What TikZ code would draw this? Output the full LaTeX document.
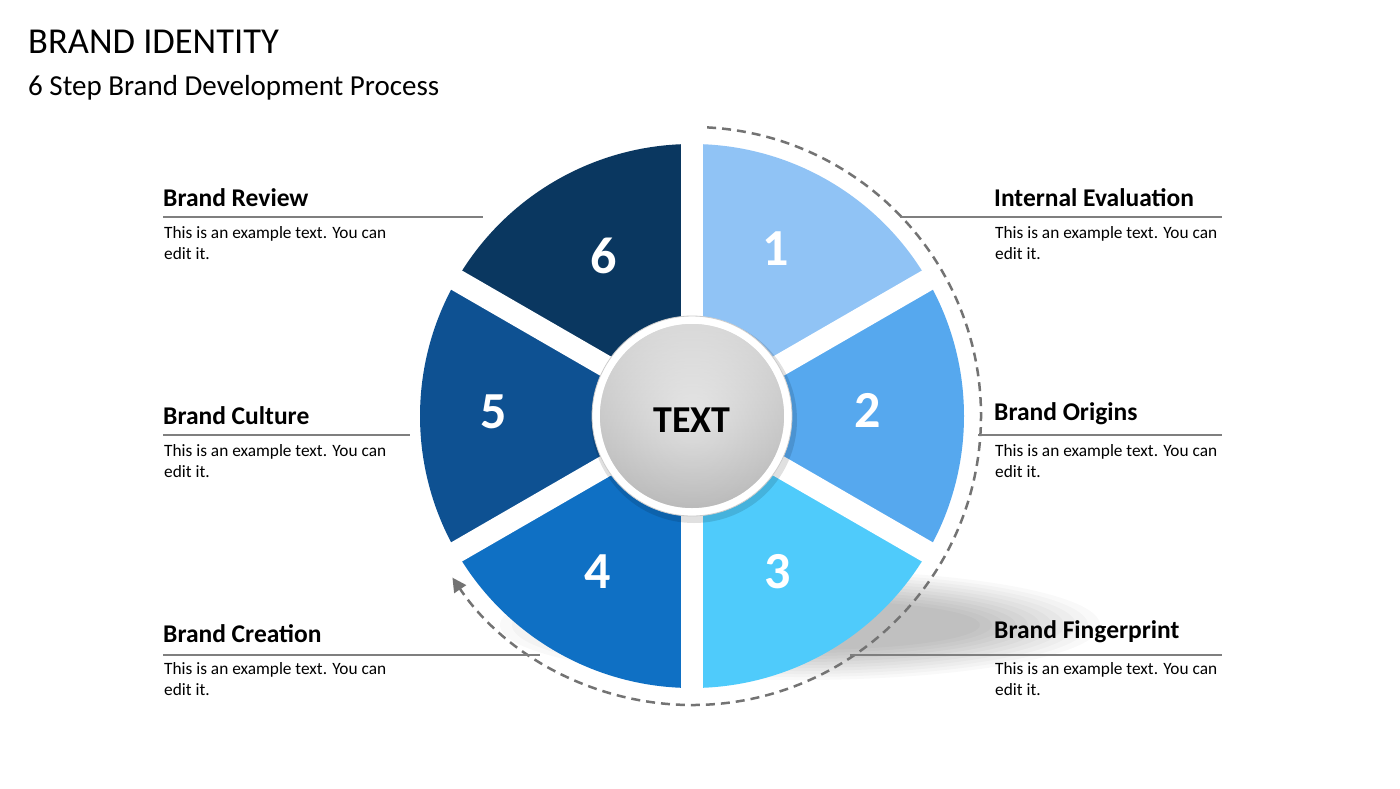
\documentclass[tikz,border=0pt]{standalone}
\usepackage{fontspec}
\setmainfont{Carlito}
\usetikzlibrary{arrows.meta,calc}
\definecolor{c1}{HTML}{90C3F5}
\definecolor{c2}{HTML}{56A8EE}
\definecolor{c3}{HTML}{4FCBFB}
\definecolor{c4}{HTML}{0F70C4}
\definecolor{c5}{HTML}{0E5192}
\definecolor{c6}{HTML}{0A3760}
\definecolor{ln}{HTML}{7F7F7F}
\tikzset{
  head/.style={anchor=south west,font=\fontsize{25.5}{28}\selectfont\bfseries,inner sep=0pt},
  body/.style={anchor=north west,font=\fontsize{17.3}{21}\selectfont,align=left,inner sep=0pt},
  rule/.style={draw=ln,line width=2.5pt},
  num/.style={text=white,font=\fontsize{52}{52}\selectfont\bfseries}
}
\begin{document}
\begin{tikzpicture}[x=1pt,y=-1pt]
\useasboundingbox[fill=white] (0,0) rectangle (1400,788);
\node[anchor=west,font=\fontsize{36.5}{40}\selectfont,inner sep=0pt] (t) at (28,42) {BRAND IDENTITY};
\node[anchor=west,font=\fontsize{29}{32}\selectfont,inner sep=0pt] (st) at (28,88) {6 Step Brand Development Process};
% shadow
\foreach \i in {0,...,10}{
  \fill[black,opacity=0.025] (800,625) ellipse ({300-\i*12} and {55-\i*3});
}
% sectors
\coordinate (o) at (692,416);
\def\R{272}
\foreach \c/\a/\b in {c1/-90/-30,c2/-30/30,c3/30/90,c4/90/150,c5/150/210,c6/210/270}{
  \fill[\c] (o) -- ++(\a:\R) arc[start angle=\a,end angle=\b,radius=\R] -- cycle;
}
\foreach \a in {30,90,150,210,270,330}{
  \draw[white,line width=22pt] (o) -- ++(\a:{\R+5});
}
% numbers
\node[num] (n1) at (776,249) {1};
\node[num] (n2) at (868,410) {2};
\node[num] (n3) at (778,572) {3};
\node[num] (n4) at (598,572) {4};
\node[num] (n5) at (494,412) {5};
\node[num] (n6) at (604,256) {6};
% centre
\fill[black,opacity=0.12] (694,420) circle (103);
\fill[white] (o) circle (100);
\shade[inner color=white,outer color=black!25] (o) circle (92);
\shade[top color=black!8,bottom color=black!28,opacity=0.6] (o) circle (92);
\draw[black!20,line width=0.8pt] (o) circle (100);
\node[font=\fontsize{38}{38}\selectfont\bfseries] (tx) at (692,420) {TEXT};
% dashed arc
\draw[black!55,line width=2.5pt,dash pattern=on 9pt off 6pt,-{Triangle[length=14pt,width=14pt]}]
  ($(o)+(-87:289)$) arc[start angle=-87,end angle=146,radius=289];
% labels right
\coordinate (r1a) at (900,217); \coordinate (r1b) at (1222,217);
\coordinate (r2a) at (978,435); \coordinate (r2b) at (1222,435);
\coordinate (r3a) at (850,655); \coordinate (r3b) at (1222,655);
\draw[rule] (r1a) -- (r1b); \draw[rule] (r2a) -- (r2b); \draw[rule] (r3a) -- (r3b);
\node[head] (h1) at (994,207) {Internal Evaluation};
\node[head] (h2) at (994,425) {Brand Origins};
\node[head] (h3) at (994,643) {Brand Fingerprint};
\node[body] (b1) at (995,226) {This is an example text. You can\\edit it.};
\node[body] (b2) at (995,444) {This is an example text. You can\\edit it.};
\node[body] (b3) at (995,662) {This is an example text. You can\\edit it.};
% labels left
\coordinate (l1a) at (163,217); \coordinate (l1b) at (483,217);
\coordinate (l2a) at (163,435); \coordinate (l2b) at (410,435);
\coordinate (l3a) at (163,655); \coordinate (l3b) at (540,655);
\draw[rule] (l1a) -- (l1b); \draw[rule] (l2a) -- (l2b); \draw[rule] (l3a) -- (l3b);
\node[head] (h6) at (163,207) {Brand Review};
\node[head] (h5) at (163,425) {Brand Culture};
\node[head] (h4) at (163,643) {Brand Creation};
\node[body] (b6) at (164,226) {This is an example text. You can\\edit it.};
\node[body] (b5) at (164,444) {This is an example text. You can\\edit it.};
\node[body] (b4) at (164,662) {This is an example text. You can\\edit it.};
\end{tikzpicture}
\end{document}
